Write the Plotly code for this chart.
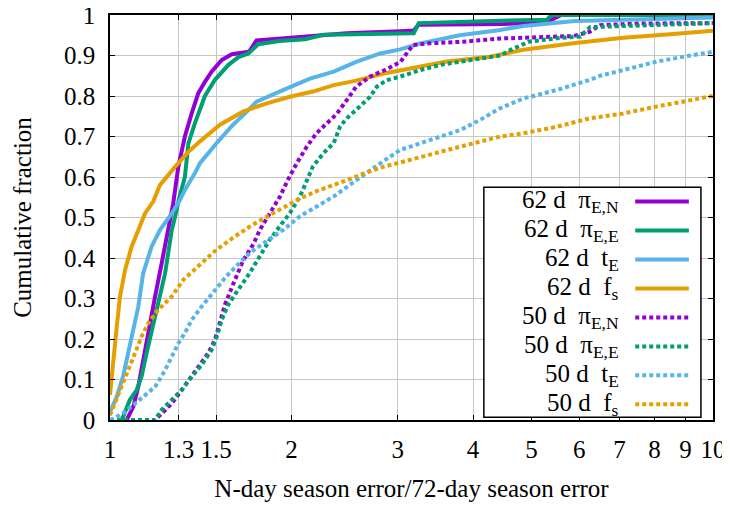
import plotly.graph_objects as go

# ---------------- data ----------------
X_TICKS = [1, 1.3, 1.5, 2, 3, 4, 5, 6, 7, 8, 9, 10]
X_TICK_TEXT = ["1", "1.3", "1.5", "2", "3", "4", "5", "6", "7", "8", "9", "10"]
Y_TICKS = [0, 0.1, 0.2, 0.3, 0.4, 0.5, 0.6, 0.7, 0.8, 0.9, 1.0]
Y_TICK_TEXT = ["0", "0.1", "0.2", "0.3", "0.4", "0.5", "0.6", "0.7", "0.8", "0.9", "1"]

# 62-day season, pi_E,N
x_62_pien = [1.066, 1.093, 1.114, 1.135, 1.157, 1.188, 1.218, 1.249, 1.273, 1.298, 1.331, 1.366,
             1.401, 1.437, 1.474, 1.532, 1.592, 1.70, 1.75, 1.854, 2.106, 2.47, 3.03, 3.19, 3.25,
             4.5, 5.3, 5.6, 10]
y_62_pien = [0, 0.033, 0.082, 0.148, 0.222, 0.305, 0.387, 0.469, 0.535, 0.625, 0.70, 0.757,
             0.807, 0.835, 0.86, 0.889, 0.903, 0.909, 0.937, 0.94, 0.947, 0.955, 0.96, 0.962, 0.976,
             0.978, 0.982, 1.0, 1.0]

# 62-day season, pi_E,E
x_62_piee = [1.046, 1.059, 1.079, 1.107, 1.128, 1.15, 1.172, 1.202, 1.234, 1.266, 1.282, 1.30,
             1.331, 1.349, 1.383, 1.437, 1.493, 1.572, 1.633, 1.696, 1.762, 1.908, 2.106, 2.259,
             3.19, 3.25, 4.435, 5.3, 5.4, 10]
y_62_piee = [0, 0.02, 0.05, 0.074, 0.107, 0.165, 0.222, 0.288, 0.362, 0.469, 0.502, 0.543,
             0.60, 0.683, 0.733, 0.80, 0.84, 0.877, 0.896, 0.905, 0.928, 0.936, 0.94, 0.951,
             0.955, 0.98, 0.986, 0.988, 1.0, 1.0]

# 62-day season, t_E
x_62_te = [1.0, 1.026, 1.051, 1.072, 1.093, 1.114, 1.135, 1.172, 1.21, 1.266, 1.306, 1.331,
           1.383, 1.41, 1.503, 1.60, 1.675, 1.75, 1.94, 2.146, 2.35, 2.56, 2.806, 3.03, 3.27,
           3.8, 4.44, 4.85, 5.9, 7.1, 10]
y_62_te = [0.02, 0.057, 0.107, 0.165, 0.222, 0.28, 0.362, 0.428, 0.469, 0.51, 0.543, 0.568,
           0.61, 0.634, 0.684, 0.729, 0.757, 0.786, 0.815, 0.843, 0.86, 0.884, 0.905, 0.915, 0.93,
           0.95, 0.963, 0.973, 0.985, 0.989, 0.994]

# 62-day season, f_s
x_62_fs = [1.0, 1.013, 1.026, 1.039, 1.059, 1.086, 1.114, 1.143, 1.18, 1.21, 1.282, 1.349,
           1.41, 1.522, 1.664, 1.82, 1.988, 2.17, 2.35, 2.56, 2.875, 3.22, 3.618, 4.268, 4.847,
           5.866, 7.10, 8.594, 10]
y_62_fs = [0.062, 0.156, 0.23, 0.305, 0.37, 0.428, 0.469, 0.51, 0.54, 0.58, 0.625, 0.662,
           0.688, 0.729, 0.762, 0.782, 0.798, 0.811, 0.827, 0.838, 0.857, 0.87, 0.885, 0.897, 0.914,
           0.93, 0.944, 0.953, 0.961]

# 50-day season, pi_E,N
x_50_pien = [1.0, 1.188, 1.218, 1.266, 1.315, 1.366, 1.419, 1.455, 1.493, 1.522, 1.551, 1.60,
             1.664, 1.73, 1.773, 1.842, 1.914, 1.973, 2.04, 2.12, 2.2, 2.29, 2.375, 2.47, 2.56,
             2.70, 2.875, 3.03, 3.10, 3.18, 3.39, 3.85, 4.44, 5.87, 6.25, 6.50, 7.58, 10]
y_50_pien = [0, 0, 0.016, 0.041, 0.074, 0.107, 0.14, 0.165, 0.198, 0.239, 0.285, 0.335,
             0.395, 0.435, 0.47, 0.511, 0.552, 0.593, 0.634, 0.675, 0.708, 0.733, 0.755, 0.79, 0.823,
             0.848, 0.866, 0.884, 0.905, 0.926, 0.93, 0.934, 0.942, 0.948, 0.959, 0.975, 0.979, 0.98]

# 50-day season, pi_E,E
x_50_piee = [1.0, 1.188, 1.218, 1.266, 1.315, 1.366, 1.419, 1.474, 1.503, 1.532, 1.571, 1.62,
             1.707, 1.773, 1.842, 1.914, 1.988, 2.066, 2.12, 2.17, 2.26, 2.35, 2.408, 2.47, 2.56,
             2.70, 2.77, 2.875, 3.03, 3.27, 3.53, 3.85, 4.44, 4.62, 4.95, 5.45, 6.03, 6.25, 7.1, 10]
y_50_piee = [0, 0, 0.025, 0.05, 0.074, 0.107, 0.136, 0.173, 0.206, 0.247, 0.285, 0.315,
             0.364, 0.405, 0.446, 0.479, 0.511, 0.552, 0.593, 0.626, 0.659, 0.684, 0.725, 0.745, 0.766,
             0.798, 0.823, 0.839, 0.848, 0.864, 0.877, 0.885, 0.90, 0.914, 0.934, 0.942, 0.947, 0.97,
             0.973, 0.98]

# 50-day season, t_E
x_50_te = [1.0, 1.019, 1.059, 1.10, 1.143, 1.188, 1.234, 1.266, 1.298, 1.331, 1.366, 1.419,
           1.484, 1.562, 1.62, 1.707, 1.82, 1.94, 2.066, 2.2, 2.35, 2.50, 2.66, 2.84, 3.03, 3.27,
           3.53, 3.81, 4.11, 4.44, 4.85, 5.51, 6.25, 6.5, 7.10, 8.07, 9.17, 10]
y_50_te = [0.0, 0.005, 0.02, 0.041, 0.062, 0.082, 0.123, 0.156, 0.189, 0.215, 0.247, 0.28,
           0.315, 0.356, 0.38, 0.413, 0.442, 0.47, 0.503, 0.528, 0.552, 0.581, 0.61, 0.639, 0.667,
           0.683, 0.70, 0.716, 0.741, 0.77, 0.794, 0.815, 0.84, 0.85, 0.864, 0.885, 0.90, 0.909]

# 50-day season, f_s
x_50_fs = [1.0, 1.019, 1.046, 1.072, 1.10, 1.128, 1.157, 1.202, 1.266, 1.323, 1.41, 1.50,
           1.60, 1.707, 1.82, 1.94, 2.066, 2.2, 2.35, 2.50, 2.66, 2.84, 3.03, 3.27, 3.53, 3.81,
           4.11, 4.44, 4.85, 5.51, 6.25, 7.10, 8.07, 9.17, 10]
y_50_fs = [0.012, 0.041, 0.082, 0.123, 0.165, 0.206, 0.239, 0.272, 0.305, 0.346, 0.385, 0.42,
           0.45, 0.478, 0.502, 0.524, 0.547, 0.565, 0.58, 0.595, 0.611, 0.625, 0.636, 0.648, 0.662,
           0.675, 0.687, 0.70, 0.708, 0.724, 0.745, 0.757, 0.774, 0.79, 0.80]

SEASONS = ["62 d", "50 d"]
PARAMS = ["π<sub>E,N</sub>", "π<sub>E,E</sub>", "t<sub>E</sub>", "f<sub>s</sub>"]
COLORS = ["#9400d3", "#009e73", "#56b4e9", "#e69f00"]
DASHES = ["solid", "4px,3px"]

DATA = [
    [(x_62_pien, y_62_pien), (x_62_piee, y_62_piee), (x_62_te, y_62_te), (x_62_fs, y_62_fs)],
    [(x_50_pien, y_50_pien), (x_50_piee, y_50_piee), (x_50_te, y_50_te), (x_50_fs, y_50_fs)],
]

FONT = "Liberation Serif, Times New Roman, serif"

fig = go.Figure()
for si, season in enumerate(SEASONS):
    for pi, param in enumerate(PARAMS):
        xs, ys = DATA[si][pi]
        fig.add_trace(go.Scatter(
            x=xs, y=ys, mode="lines",
            name=f"{season}  {param}",
            line=dict(color=COLORS[pi], width=4, dash=DASHES[si]),
            showlegend=False, hoverinfo="skip",
        ))

# the page body adds an 8px offset, so the plot frame is placed 8px up/left
fig.update_layout(
    width=730, height=510,
    margin=dict(l=102, r=25, t=7, b=98, autoexpand=False),
    paper_bgcolor="white", plot_bgcolor="white",
    font=dict(family=FONT, size=25, color="black"),
    showlegend=False,
)

fig.update_xaxes(
    type="log", range=[0, 1], automargin=False,
    tickmode="array", tickvals=X_TICKS, ticktext=X_TICK_TEXT,
    showgrid=True, gridcolor="#c6c6c6", gridwidth=1,
    ticks="inside", ticklen=5, tickwidth=1, tickcolor="black",
    showline=True, linecolor="black", linewidth=1.5, mirror="ticks",
    zeroline=False, ticklabelstandoff=6, ticklabeloverflow="allow",
    tickfont=dict(family=FONT, size=25),
    title=dict(text="N-day season error/72-day season error", font=dict(family=FONT, size=25), standoff=18),
)
fig.update_yaxes(
    range=[0, 1], automargin=False,
    tickmode="array", tickvals=Y_TICKS, ticktext=Y_TICK_TEXT,
    showgrid=True, gridcolor="#c6c6c6", gridwidth=1,
    ticks="inside", ticklen=5, tickwidth=1, tickcolor="black",
    showline=True, linecolor="black", linewidth=1.5, mirror="ticks",
    zeroline=False, ticklabelstandoff=8, ticklabeloverflow="allow",
    tickfont=dict(family=FONT, size=25),
    title=dict(text="Cumulative fraction", font=dict(family=FONT, size=25), standoff=25),
)

# ---------------- custom legend (text left, sample right, boxed) ----------------
box_x0, box_x1, box_y0, box_y1 = 0.620, 0.980, 0.007, 0.575
fig.add_shape(type="rect", xref="paper", yref="paper",
              x0=box_x0, x1=box_x1, y0=box_y0, y1=box_y1,
              line=dict(color="black", width=1.5), fillcolor="white", layer="above")
row_top = 0.5392
row_step = 0.0715
text_x = 0.848
samp_x0, samp_x1 = 0.871, 0.960
k = 0
for si, season in enumerate(SEASONS):
    for pi, param in enumerate(PARAMS):
        yy = row_top - k * row_step
        fig.add_annotation(xref="paper", yref="paper", x=text_x, y=yy,
                           text=f"{season}\u00a0\u00a0{param}", showarrow=False,
                           xanchor="right", yanchor="middle",
                           font=dict(family=FONT, size=25, color="black"))
        fig.add_shape(type="line", xref="paper", yref="paper",
                      x0=samp_x0, x1=samp_x1, y0=yy, y1=yy, layer="above",
                      line=dict(color=COLORS[pi], width=4, dash=DASHES[si]))
        k += 1

fig.write_html("out.html")
